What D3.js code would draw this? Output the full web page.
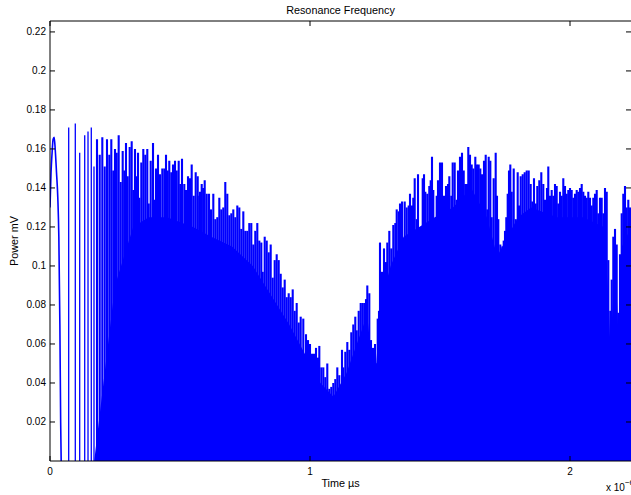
<!DOCTYPE html>
<html>
<head>
<meta charset="utf-8">
<script src="https://cdn.jsdelivr.net/npm/d3@7"></script>
<style>
  body { margin: 0; background: #fff; }
  svg { display: block; font-family: "Liberation Sans", Arial, sans-serif; }
</style>
</head>
<body>
<svg id="chart"></svg>
<script>
// Resonance frequency trace: dense oscillation drawn as spikes from 0 up to each peak

const width = 631, height = 495;
const margin = { top: 21, right: 0, bottom: 34, left: 50 };

// opening half-wave before the spikes start (time in 1e-6 s units, power in mV)
const startTime = [0, 0.004, 0.008, 0.012, 0.016, 0.020, 0.025, 0.030, 0.034, 0.038, 0.041, 0.043];
const startPower = [0.130, 0.148, 0.158, 0.165, 0.166, 0.160, 0.148, 0.135, 0.115, 0.070, 0.020, 0];

// spike positions and peak heights
const spikeTime = [
  0.0719, 0.0973, 0.1142, 0.1335, 0.1462, 0.1588, 0.1692, 0.1808, 0.1912, 0.2012,
  0.2104, 0.2192, 0.2281, 0.2358, 0.2435, 0.2500, 0.2565, 0.2642, 0.2719, 0.2796,
  0.2858, 0.2923, 0.2988, 0.3065, 0.3142, 0.3204, 0.3269, 0.3335, 0.3385, 0.3435,
  0.3512, 0.3588, 0.3665, 0.3742, 0.3796, 0.3873, 0.3962, 0.4027, 0.4077, 0.4154,
  0.4231, 0.4319, 0.4396, 0.4462, 0.4527, 0.4588, 0.4665, 0.4731, 0.4808, 0.4873,
  0.4950, 0.5012, 0.5077, 0.5165, 0.5231, 0.5308, 0.5385, 0.5450, 0.5527, 0.5604,
  0.5681, 0.5742, 0.5769, 0.5835, 0.5892, 0.5950, 0.6027, 0.6115, 0.6192, 0.6281,
  0.6358, 0.6435, 0.6512, 0.6588, 0.6665, 0.6742, 0.6819, 0.6896, 0.6973, 0.7050,
  0.7127, 0.7204, 0.7281, 0.7358, 0.7435, 0.7512, 0.7588, 0.7665, 0.7742, 0.7819,
  0.7896, 0.7973, 0.8050, 0.8127, 0.8181, 0.8258, 0.8335, 0.8412, 0.8488, 0.8565,
  0.8642, 0.8719, 0.8796, 0.8873, 0.8950, 0.9027, 0.9104, 0.9181, 0.9258, 0.9335,
  0.9412, 0.9488, 0.9565, 0.9642, 0.9742, 0.9846, 0.9923, 1.0000, 1.0077, 1.0154,
  1.0231, 1.0308, 1.0358, 1.0435, 1.0512, 1.0588, 1.0665, 1.0742, 1.0819, 1.0896,
  1.0973, 1.1050, 1.1127, 1.1231, 1.1281, 1.1358, 1.1435, 1.1512, 1.1588, 1.1665,
  1.1742, 1.1796, 1.1873, 1.1950, 1.2019, 1.2088, 1.2154, 1.2204, 1.2281, 1.2346,
  1.2423, 1.2500, 1.2604, 1.2654, 1.2692, 1.2769, 1.2846, 1.2923, 1.2973, 1.3050,
  1.3127, 1.3204, 1.3281, 1.3335, 1.3412, 1.3462, 1.3538, 1.3588, 1.3642, 1.3719,
  1.3796, 1.3846, 1.3923, 1.3973, 1.4027, 1.4104, 1.4154, 1.4231, 1.4281, 1.4335,
  1.4385, 1.4435, 1.4512, 1.4588, 1.4642, 1.4692, 1.4742, 1.4796, 1.4873, 1.4923,
  1.5000, 1.5077, 1.5154, 1.5231, 1.5308, 1.5358, 1.5435, 1.5488, 1.5565, 1.5642,
  1.5692, 1.5769, 1.5846, 1.5912, 1.5973, 1.6038, 1.6088, 1.6154, 1.6219, 1.6281,
  1.6358, 1.6423, 1.6488, 1.6550, 1.6615, 1.6692, 1.6758, 1.6819, 1.6873, 1.6935,
  1.6988, 1.7065, 1.7142, 1.7192, 1.7242, 1.7319, 1.7396, 1.7450, 1.7500, 1.7550,
  1.7604, 1.7654, 1.7704, 1.7758, 1.7835, 1.7912, 1.7988, 1.8038, 1.8104, 1.8181,
  1.8258, 1.8335, 1.8412, 1.8488, 1.8550, 1.8615, 1.8681, 1.8742, 1.8819, 1.8896,
  1.8973, 1.9038, 1.9115, 1.9165, 1.9231, 1.9296, 1.9358, 1.9423, 1.9488, 1.9550,
  1.9615, 1.9681, 1.9742, 1.9808, 1.9873, 1.9935, 2.0000, 2.0065, 2.0127, 2.0192,
  2.0258, 2.0319, 2.0385, 2.0450, 2.0512, 2.0577, 2.0642, 2.0704, 2.0769, 2.0835,
  2.0896, 2.0962, 2.1027, 2.1088, 2.1154, 2.1219, 2.1281, 2.1346, 2.1412, 2.1473,
  2.1550, 2.1604, 2.1665, 2.1731, 2.1796, 2.1858, 2.1923, 2.1988, 2.2050, 2.2115,
  2.2181, 2.2242, 2.2308
];
const spikePower = [
  0.171, 0.173, 0.158, 0.167, 0.169, 0.171, 0.151, 0.165, 0.157, 0.166,
  0.151, 0.165, 0.157, 0.165, 0.149, 0.160, 0.158, 0.167, 0.143, 0.159,
  0.149, 0.163, 0.146, 0.161, 0.164, 0.139, 0.160, 0.146, 0.158, 0.135,
  0.153, 0.160, 0.157, 0.160, 0.132, 0.154, 0.163, 0.134, 0.150, 0.157,
  0.147, 0.150, 0.150, 0.157, 0.149, 0.154, 0.148, 0.152, 0.154, 0.149,
  0.154, 0.142, 0.155, 0.142, 0.139, 0.146, 0.145, 0.152, 0.136, 0.148,
  0.146, 0.136, 0.138, 0.142, 0.140, 0.144, 0.137, 0.137, 0.129, 0.137,
  0.124, 0.125, 0.135, 0.129, 0.130, 0.143, 0.137, 0.126, 0.127, 0.129,
  0.125, 0.131, 0.130, 0.119, 0.128, 0.118, 0.118, 0.122, 0.122, 0.111,
  0.118, 0.122, 0.113, 0.112, 0.097, 0.115, 0.113, 0.107, 0.111, 0.094,
  0.103, 0.106, 0.103, 0.096, 0.089, 0.093, 0.084, 0.086, 0.084, 0.088,
  0.077, 0.081, 0.071, 0.074, 0.073, 0.065, 0.062, 0.060, 0.055, 0.055,
  0.058, 0.053, 0.059, 0.048, 0.048, 0.043, 0.050, 0.037, 0.038, 0.040,
  0.042, 0.048, 0.044, 0.057, 0.048, 0.056, 0.061, 0.057, 0.066, 0.070,
  0.074, 0.067, 0.077, 0.081, 0.081, 0.081, 0.083, 0.090, 0.086, 0.062,
  0.058, 0.060, 0.073, 0.077, 0.112, 0.097, 0.109, 0.102, 0.112, 0.118,
  0.109, 0.121, 0.122, 0.129, 0.128, 0.132, 0.133, 0.111, 0.133, 0.130,
  0.131, 0.137, 0.131, 0.135, 0.145, 0.124, 0.147, 0.092, 0.118, 0.145,
  0.147, 0.138, 0.137, 0.141, 0.144, 0.156, 0.139, 0.116, 0.136, 0.144,
  0.153, 0.153, 0.136, 0.141, 0.142, 0.146, 0.136, 0.153, 0.153, 0.134,
  0.149, 0.156, 0.158, 0.149, 0.142, 0.142, 0.161, 0.157, 0.152, 0.150,
  0.156, 0.152, 0.152, 0.150, 0.147, 0.154, 0.157, 0.129, 0.156, 0.154,
  0.125, 0.145, 0.158, 0.136, 0.124, 0.111, 0.110, 0.113, 0.118, 0.125,
  0.137, 0.149, 0.152, 0.138, 0.150, 0.124, 0.148, 0.131, 0.146, 0.147,
  0.148, 0.149, 0.149, 0.142, 0.133, 0.145, 0.132, 0.141, 0.144, 0.148,
  0.142, 0.134, 0.140, 0.151, 0.136, 0.139, 0.136, 0.142, 0.141, 0.132,
  0.138, 0.136, 0.145, 0.141, 0.137, 0.139, 0.140, 0.139, 0.135, 0.137,
  0.139, 0.138, 0.140, 0.142, 0.138, 0.136, 0.135, 0.138, 0.135, 0.131,
  0.135, 0.137, 0.139, 0.127, 0.135, 0.135, 0.127, 0.140, 0.138, 0.103,
  0.077, 0.093, 0.115, 0.119, 0.111, 0.076, 0.106, 0.127, 0.137, 0.141,
  0.130, 0.134, 0.130
];

// level under which the oscillation fills solid
const floorTime = [0.17, 0.25, 0.32, 0.38, 0.45, 0.55, 0.62, 0.70, 0.78, 0.85,
  0.92, 0.98, 1.04, 1.09, 1.14, 1.18, 1.22, 1.235, 1.255, 1.27,
  1.31, 1.36, 1.42, 1.48, 1.55, 1.62, 1.68, 1.72, 1.76, 1.80,
  1.85, 1.95, 2.05, 2.13, 2.145, 2.155, 2.165, 2.175, 2.186, 2.20,
  2.235];
const floorPower = [0, 0.09, 0.12, 0.125, 0.125, 0.12, 0.115, 0.11, 0.10, 0.085,
  0.07, 0.055, 0.04, 0.033, 0.045, 0.06, 0.075, 0.055, 0.05, 0.08,
  0.10, 0.115, 0.12, 0.125, 0.13, 0.14, 0.125, 0.105, 0.115, 0.125,
  0.13, 0.125, 0.125, 0.12, 0.09, 0.06, 0.08, 0.10, 0.065, 0.11,
  0.12];

const yTicks = [0.02, 0.04, 0.06, 0.08, 0.1, 0.12, 0.14, 0.16, 0.18, 0.2, 0.22];
const xTicks = [0, 1, 2];

const blue = "#0000ff";

const svg = d3.select("#chart").attr("width", width).attr("height", height);

const x = d3.scaleLinear().domain([0, 2.2346]).range([margin.left, width - margin.right]);
const y = d3.scaleLinear().domain([0, 0.2256]).range([height - margin.bottom, margin.top]);

svg.append("clipPath").attr("id", "plot-clip")
  .append("rect")
  .attr("x", x(0)).attr("y", y.range()[1])
  .attr("width", x.range()[1] - x(0)).attr("height", y(0) - y.range()[1]);

const plot = svg.append("g").attr("clip-path", "url(#plot-clip)");

// solid band
const floorData = floorTime.map((t, i) => ({ t, p: floorPower[i] }));
plot.append("path")
  .datum(floorData)
  .attr("fill", blue)
  .attr("d", d3.area().x(d => x(d.t)).y0(y(0)).y1(d => y(d.p)));

// spikes
const spikes = spikeTime.map((t, i) => ({ t, p: spikePower[i] }));
plot.selectAll("line.spike")
  .data(spikes)
  .enter().append("line")
  .attr("class", "spike")
  .attr("x1", d => x(d.t)).attr("x2", d => x(d.t))
  .attr("y1", y(0)).attr("y2", d => y(d.p))
  .attr("stroke", blue)
  .attr("stroke-width", d => d.t < 0.18 ? 1.3 : 2.1);

// opening curve
const startData = startTime.map((t, i) => ({ t, p: startPower[i] }));
plot.append("path")
  .datum(startData)
  .attr("fill", "none")
  .attr("stroke", blue)
  .attr("stroke-width", 1.6)
  .attr("d", d3.line().x(d => x(d.t)).y(d => y(d.p)).curve(d3.curveMonotoneX));

// axes box
const x0 = x(0), x1 = x.range()[1], yb = y(0), yt = y.range()[1];
svg.append("path")
  .attr("d", `M${x0},${yb}H${x1}M${x0},${yb}V${yt}H${x1}`)
  .attr("fill", "none").attr("stroke", "#000").attr("stroke-width", 1);

const tickLen = 5;
const axisG = svg.append("g").attr("stroke", "#000").attr("stroke-width", 1);
yTicks.forEach(v => {
  axisG.append("line").attr("x1", x0).attr("x2", x0 + tickLen).attr("y1", y(v)).attr("y2", y(v));
  axisG.append("line").attr("x1", x1 - tickLen).attr("x2", x1).attr("y1", y(v)).attr("y2", y(v));
});
xTicks.forEach(v => {
  axisG.append("line").attr("x1", x(v)).attr("x2", x(v)).attr("y1", yb).attr("y2", yb - tickLen);
  axisG.append("line").attr("x1", x(v)).attr("x2", x(v)).attr("y1", yt).attr("y2", yt + tickLen);
});

svg.selectAll("text.ytick")
  .data(yTicks)
  .enter().append("text")
  .attr("class", "ytick")
  .attr("x", x0 - 4).attr("y", d => y(d) + 3.5)
  .attr("text-anchor", "end")
  .attr("font-size", 10)
  .text(d => d3.format("")(d));

svg.selectAll("text.xtick")
  .data(xTicks)
  .enter().append("text")
  .attr("class", "xtick")
  .attr("x", d => x(d)).attr("y", yb + 14)
  .attr("text-anchor", "middle")
  .attr("font-size", 10)
  .text(d => d);

svg.append("text")
  .attr("x", (x0 + x1) / 2).attr("y", 14)
  .attr("text-anchor", "middle").attr("font-size", 10.8)
  .text("Resonance Frequency");

svg.append("text")
  .attr("x", (x0 + x1) / 2).attr("y", 487)
  .attr("text-anchor", "middle").attr("font-size", 10.8)
  .text("Time µs");

svg.append("text")
  .attr("transform", `translate(18,${(yb + yt) / 2}) rotate(-90)`)
  .attr("text-anchor", "middle").attr("font-size", 10.8)
  .text("Power mV");

const expo = svg.append("text")
  .attr("x", 606).attr("y", 491)
  .attr("font-size", 10);
expo.append("tspan").text("x 10");
expo.append("tspan").attr("dy", -6).attr("font-size", 8).text("−6");
</script>
</body>
</html>
